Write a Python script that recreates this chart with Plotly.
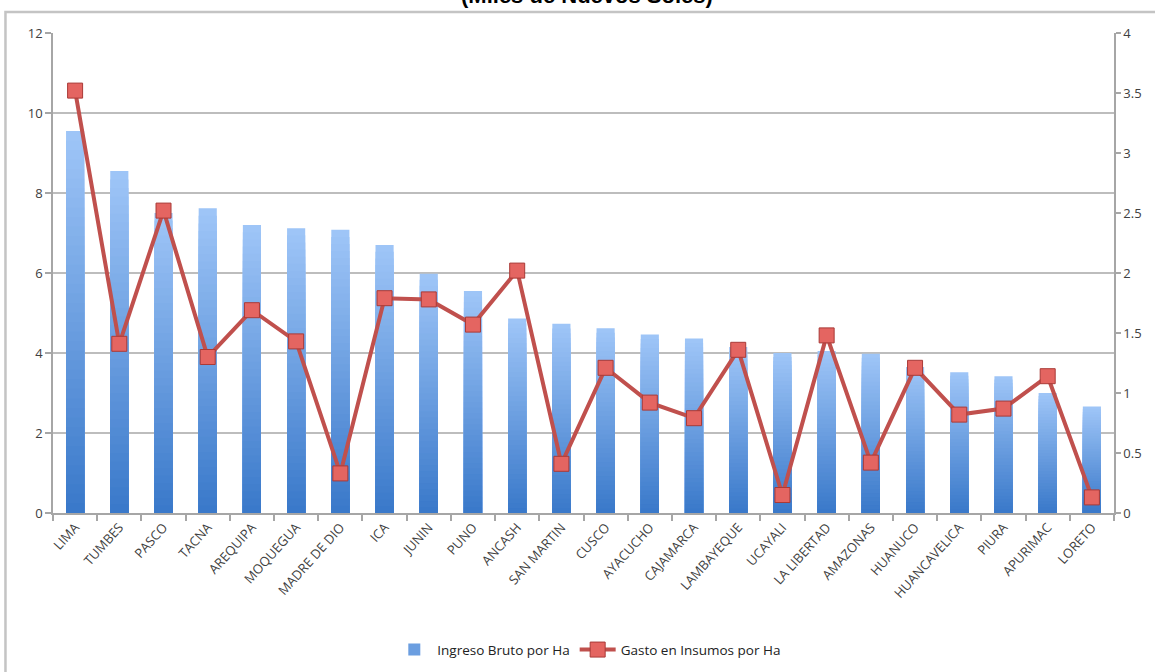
import plotly.graph_objects as go

# Regions, ordered by gross income per hectare
categories = ["LIMA", "TUMBES", "PASCO", "TACNA", "AREQUIPA", "MOQUEGUA", "MADRE DE DIO",
              "ICA", "JUNIN", "PUNO", "ANCASH", "SAN MARTIN", "CUSCO", "AYACUCHO",
              "CAJAMARCA", "LAMBAYEQUE", "UCAYALI", "LA LIBERTAD", "AMAZONAS", "HUANUCO",
              "HUANCAVELICA", "PIURA", "APURIMAC", "LORETO"]

# Ingreso Bruto por Ha (left axis, miles de S/.)
ingreso = [9.55, 8.55, 7.5, 7.62, 7.2, 7.12, 7.08, 6.7, 5.98, 5.55, 4.86, 4.73,
           4.62, 4.46, 4.36, 4.15, 4.0, 4.05, 3.98, 3.65, 3.52, 3.42, 3.0, 2.66]

# Gasto en Insumos por Ha (right axis, miles de S/.)
gasto = [3.52, 1.41, 2.52, 1.30, 1.69, 1.43, 0.33, 1.79, 1.78, 1.57, 2.02, 0.41,
         1.21, 0.92, 0.79, 1.36, 0.15, 1.48, 0.42, 1.21, 0.82, 0.87, 1.14, 0.13]

left_ticks = [0, 2, 4, 6, 8, 10, 12]
right_ticks = [0, 0.5, 1, 1.5, 2, 2.5, 3, 3.5, 4]

FONT = "Open Sans"
TXT = "#404040"
GRID = "#bdbdbd"
AXIS = "#a6a6a6"

LIGHT = (158, 197, 247)
DARK = (58, 121, 202)


def lerp(a, b, t):
    return "rgb({},{},{})".format(*[round(a[i] + (b[i] - a[i]) * t) for i in range(3)])


fig = go.Figure()

# Bars drawn as stacked-in-place layers, each shorter and darker, for a vertical gradient
N = 40
for j in range(N):
    frac = 1 - j / N
    fig.add_trace(go.Bar(
        x=categories,
        y=[v * frac for v in ingreso],
        width=0.41,
        marker=dict(color=lerp(LIGHT, DARK, j / (N - 1)), line=dict(width=0)),
        name="Ingreso Bruto por Ha",
        showlegend=(j == N // 2),
        legendgroup="ingreso",
        hoverinfo="skip" if j else "x+y",
        yaxis="y",
    ))

fig.add_trace(go.Scatter(
    x=categories,
    y=gasto,
    mode="lines+markers",
    name="Gasto en Insumos por Ha",
    line=dict(color="#c0504d", width=4),
    marker=dict(symbol="square", size=15, color="#e46561",
                line=dict(color="#a93a37", width=1)),
    yaxis="y2",
))

fig.update_layout(
    width=1155,
    height=672,
    margin=dict(l=53, r=41, t=33, b=159, autoexpand=False),
    paper_bgcolor="white",
    plot_bgcolor="white",
    barmode="overlay",
    font=dict(family=FONT, size=12, color=TXT),
    xaxis=dict(
        type="category",
        automargin=False,
        tickangle=-48,
        tickson="boundaries",
        ticks="outside",
        ticklen=6,
        tickcolor=AXIS,
        tickwidth=1.5,
        showline=True,
        linecolor=AXIS,
        linewidth=1.5,
        showgrid=False,
        tickfont=dict(family=FONT, size=13, color=TXT),
        range=[-0.5, len(categories) - 0.5],
    ),
    yaxis=dict(
        automargin=False,
        range=[0, 12],
        tickvals=left_ticks,
        ticks="outside",
        ticklen=6,
        tickcolor=AXIS,
        tickwidth=1.5,
        showline=True,
        linecolor=AXIS,
        linewidth=1.5,
        showgrid=True,
        gridcolor=GRID,
        gridwidth=1.5,
        zeroline=False,
        tickfont=dict(family=FONT, size=13, color=TXT),
    ),
    yaxis2=dict(
        automargin=False,
        range=[0, 4],
        tickvals=right_ticks,
        ticktext=[f"{t:g}" for t in right_ticks],
        overlaying="y",
        side="right",
        ticks="outside",
        ticklen=5,
        tickcolor=AXIS,
        tickwidth=1.5,
        showline=True,
        linecolor=AXIS,
        linewidth=1.5,
        showgrid=False,
        zeroline=False,
        tickfont=dict(family=FONT, size=13, color=TXT),
    ),
    legend=dict(
        orientation="h",
        x=0.505,
        xanchor="center",
        y=-0.285,
        yanchor="middle",
        font=dict(family=FONT, size=13.5, color="#222222"),
        traceorder="normal",
        itemwidth=36,
    ),
    annotations=[dict(
        text="<b>(Miles de Nuevos Soles)</b>",
        xref="paper", yref="paper",
        x=0.503, y=1.0771,
        xanchor="center", yanchor="middle",
        showarrow=False,
        font=dict(family="Liberation Sans", size=22, color="black"),
    )],
    shapes=[dict(
        type="rect",
        xref="paper", yref="paper",
        x0=-0.0448, x1=1.2,
        y0=-0.6, y1=1.0438,
        line=dict(color="#c4c4c4", width=2.5),
        fillcolor="rgba(0,0,0,0)",
        layer="below",
    )],
)

fig.write_html("out.html")
